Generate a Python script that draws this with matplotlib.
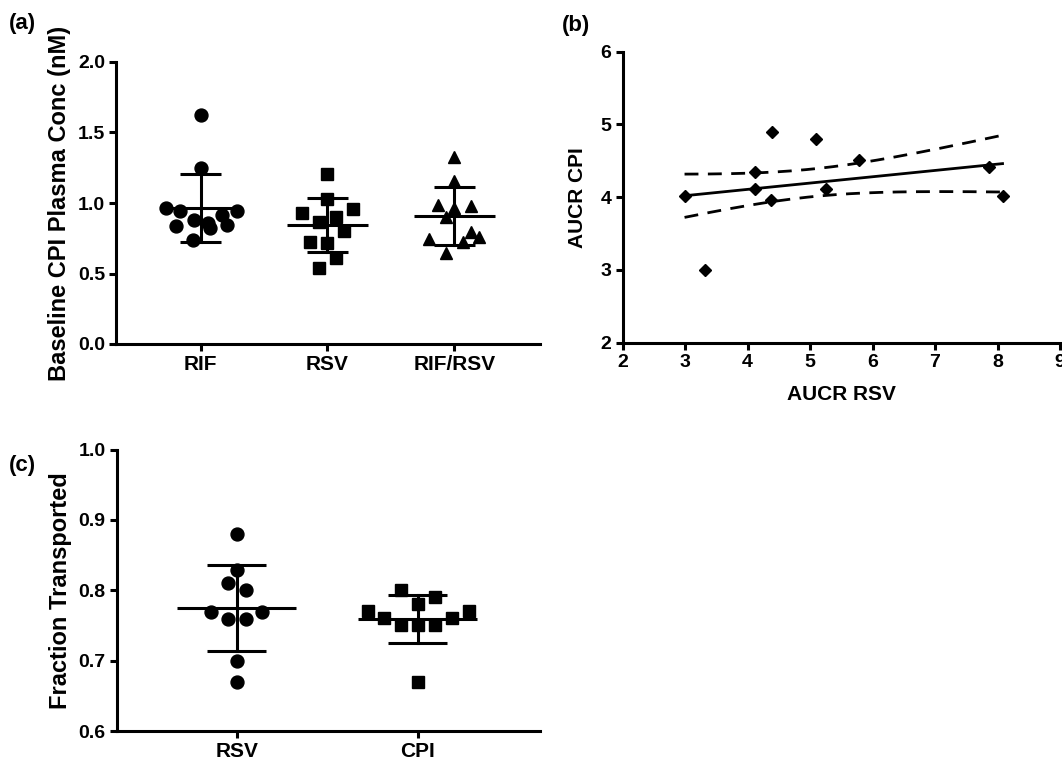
import numpy as np
import matplotlib
matplotlib.use("Agg")
import matplotlib.pyplot as plt

plt.rcParams['font.family'] = ['Liberation Sans', 'DejaVu Sans']
plt.rcParams['font.weight'] = 'bold'

# ---------------- Panel (a) data ----------------
a_categories = ["RIF", "RSV", "RIF/RSV"]
rif_values = [1.626, 1.250, 0.965, 0.943, 0.945, 0.837, 0.879, 0.860, 0.820, 0.915, 0.844, 0.738]
rif_offsets = [0.0, 0.0, -0.276, -0.163, 0.283, -0.194, -0.05, 0.06, 0.073, 0.17, 0.205, -0.063]
rsv_values = [1.206, 1.028, 0.927, 0.955, 0.863, 0.903, 0.801, 0.726, 0.714, 0.608, 0.537]
rsv_offsets = [0.0, 0.0, -0.2, 0.2, -0.066, 0.066, 0.13, -0.134, 0.0, 0.066, -0.066]
rifrsv_values = [1.324, 1.156, 0.983, 0.980, 0.962, 0.903, 0.797, 0.742, 0.726, 0.761, 0.648]
rifrsv_offsets = [0.0, 0.0, -0.13, 0.13, 0.0, -0.068, 0.13, -0.197, 0.066, 0.195, -0.068]
a_means = [0.967, 0.844, 0.910]
a_sds = [0.241, 0.193, 0.205]

# ---------------- Panel (b) data ----------------
aucr_rsv = [2.99, 3.31, 4.11, 4.11, 4.39, 4.37, 5.09, 5.26, 5.79, 7.87, 8.08]
aucr_cpi = [4.02, 3.00, 4.34, 4.11, 4.89, 3.96, 4.80, 4.11, 4.51, 4.41, 4.02]
ci_half_at_mean = 0.19
ci_half_growth = 0.112

# ---------------- Panel (c) data ----------------
c_categories = ["RSV", "CPI"]
c_rsv_values = [0.880, 0.829, 0.810, 0.800, 0.769, 0.769, 0.759, 0.759, 0.699, 0.670]
c_rsv_offsets = [0.0, 0.0, -0.046, 0.05, -0.14, 0.14, -0.046, 0.05, 0.0, 0.0]
c_cpi_values = [0.801, 0.790, 0.781, 0.770, 0.770, 0.760, 0.760, 0.750, 0.750, 0.750, 0.669]
c_cpi_offsets = [-0.092, 0.095, 0.0, -0.277, 0.284, -0.184, 0.189, -0.092, 0.0, 0.095, 0.0]
c_means = [0.775, 0.759]
c_sds = [0.061, 0.034]

W, H = 1062, 763
fig = plt.figure(figsize=(W / 100, H / 100), dpi=100)

SPINE_LW = 2.2
YTICK_FS = 14
XTICK_FS = 15
LABEL_FS = 17


def style_axes(ax, xfs=XTICK_FS, yfs=YTICK_FS):
    for s in ['top', 'right']:
        ax.spines[s].set_visible(False)
    for s in ['left', 'bottom']:
        ax.spines[s].set_linewidth(SPINE_LW)
    ax.tick_params(direction='out', length=5, width=SPINE_LW, pad=3)
    ax.tick_params(axis='x', labelsize=xfs)
    ax.tick_params(axis='y', labelsize=yfs)
    for lab in ax.get_xticklabels() + ax.get_yticklabels():
        lab.set_fontweight('bold')


def mean_sd(ax, x, m, sd, half=0.32, cap=0.164, lw=2.2):
    ax.plot([x - half, x + half], [m, m], color='black', lw=lw, solid_capstyle='butt', zorder=3)
    ax.plot([x, x], [m - sd, m + sd], color='black', lw=lw, zorder=3)
    ax.plot([x - cap, x + cap], [m + sd, m + sd], color='black', lw=lw, solid_capstyle='butt', zorder=3)
    ax.plot([x - cap, x + cap], [m - sd, m - sd], color='black', lw=lw, solid_capstyle='butt', zorder=3)


# ---------- (a) ----------
ax_a = fig.add_axes([116 / W, 1 - 344 / H, (540 - 116) / W, (344 - 62) / H])
groups_a = [(rif_values, rif_offsets, 'o', 9.3),
            (rsv_values, rsv_offsets, 's', 8.2),
            (rifrsv_values, rifrsv_offsets, '^', 9.0)]
for i, (vals, offs, mk, ms) in enumerate(groups_a):
    xs = i + np.array(offs)
    ax_a.plot(xs, vals, linestyle='none', marker=mk, ms=ms, color='black', zorder=4)
    mean_sd(ax_a, i, a_means[i], a_sds[i])
ax_a.set_xlim(-0.667, 2.675)
ax_a.set_ylim(0, 2.0)
ax_a.set_yticks([0.0, 0.5, 1.0, 1.5, 2.0])
ax_a.set_yticklabels(['0.0', '0.5', '1.0', '1.5', '2.0'])
ax_a.set_xticks(range(3))
ax_a.set_xticklabels(a_categories)
ax_a.set_ylabel('Baseline CPI Plasma Conc (nM)', fontsize=LABEL_FS, fontweight='bold', labelpad=5)
style_axes(ax_a)

# ---------- (b) ----------
ax_b = fig.add_axes([622.7 / W, 1 - 342.7 / H, (1060 - 622.7) / W, (342.7 - 51.7) / H])
ax_b.plot(aucr_rsv, aucr_cpi, linestyle='none', marker='D', ms=6.6, color='black', zorder=4)
xr = np.array(aucr_rsv)
yr = np.array(aucr_cpi)
slope, intercept = np.polyfit(xr, yr, 1)
xf = np.linspace(xr.min(), xr.max(), 200)
yf = slope * xf + intercept
hw = np.sqrt(ci_half_at_mean ** 2 + (ci_half_growth * (xf - xr.mean())) ** 2)
ax_b.plot(xf, yf, color='black', lw=2.0, zorder=3)
ax_b.plot(xf, yf + hw, color='black', lw=2.0, dashes=(5, 3.4), zorder=3)
ax_b.plot(xf, yf - hw, color='black', lw=2.0, dashes=(5, 3.4), zorder=3)
ax_b.set_xlim(2, 9)
ax_b.set_ylim(2, 6)
ax_b.set_xticks(range(2, 10))
ax_b.set_yticks(range(2, 7))
ax_b.set_xlabel('AUCR RSV', fontsize=15, fontweight='bold', labelpad=10)
ax_b.set_ylabel('AUCR CPI', fontsize=15, fontweight='bold', labelpad=10)
style_axes(ax_b, xfs=14, yfs=14)

# ---------- (c) ----------
ax_c = fig.add_axes([116.7 / W, 1 - 731 / H, (540 - 116.7) / W, (731 - 449.5) / H])
groups_c = [(c_rsv_values, c_rsv_offsets, 'o', 9.3),
            (c_cpi_values, c_cpi_offsets, 's', 8.2)]
for i, (vals, offs, mk, ms) in enumerate(groups_c):
    xs = i + np.array(offs)
    ax_c.plot(xs, vals, linestyle='none', marker=mk, ms=ms, color='black', zorder=4)
    mean_sd(ax_c, i, c_means[i], c_sds[i], half=0.33, cap=0.163)
ax_c.set_xlim(-0.663, 1.676)
ax_c.set_ylim(0.6, 1.0)
ax_c.set_yticks([0.6, 0.7, 0.8, 0.9, 1.0])
ax_c.set_yticklabels(['0.6', '0.7', '0.8', '0.9', '1.0'])
ax_c.set_xticks(range(2))
ax_c.set_xticklabels(c_categories)
ax_c.set_ylabel('Fraction Transported', fontsize=LABEL_FS, fontweight='bold', labelpad=5)
style_axes(ax_c)

# panel letters
fig.text(9 / W, 1 - 13 / H, '(a)', fontsize=16, fontweight='bold', va='top', ha='left')
fig.text(562 / W, 1 - 15 / H, '(b)', fontsize=16, fontweight='bold', va='top', ha='left')
fig.text(9 / W, 1 - 455 / H, '(c)', fontsize=16, fontweight='bold', va='top', ha='left')

fig.savefig('out.png', dpi=100)
